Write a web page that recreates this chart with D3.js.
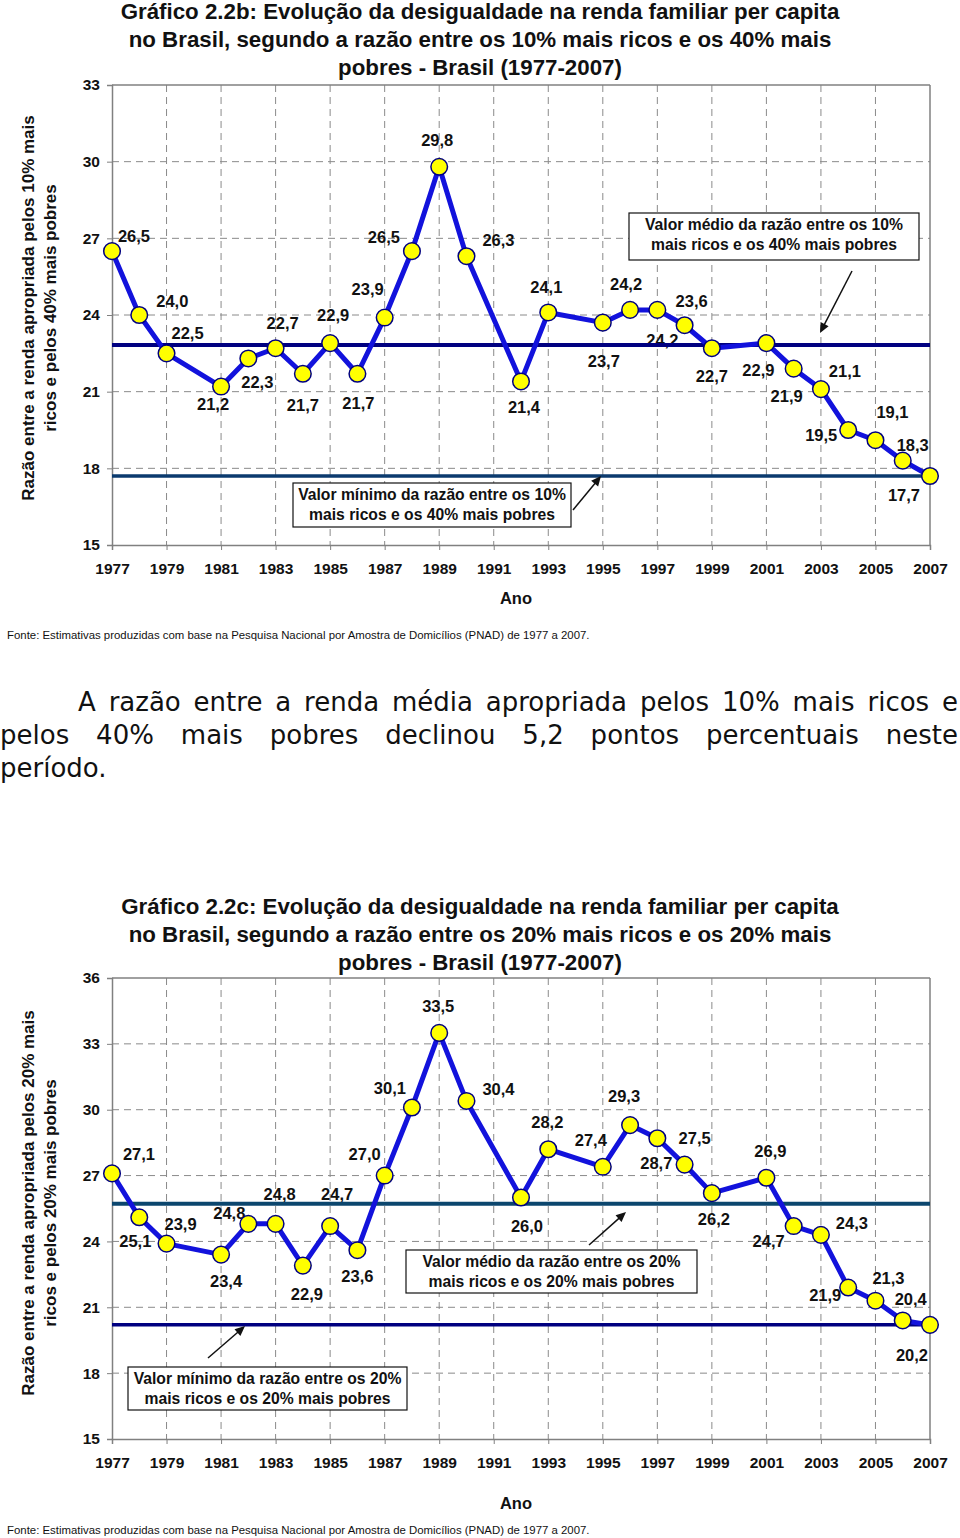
<!DOCTYPE html>
<html><head><meta charset="utf-8">
<script src="https://cdn.jsdelivr.net/npm/d3@7"></script>
<style>
body{margin:0;background:#fff;width:960px;height:1538px;overflow:hidden;position:relative}
svg{position:absolute;left:0;top:0}
.para{position:absolute;font-family:"DejaVu Sans",Verdana,sans-serif;font-size:26px;line-height:33px;color:#111;white-space:nowrap}
.just{text-align:justify;text-align-last:justify;word-spacing:0}
</style></head><body>
<svg id="chart" width="960" height="1538"></svg>
<div class="para just" style="top:686px;left:78px;width:880px">A razão entre a renda média apropriada pelos 10% mais ricos e</div>
<div class="para just" style="top:719px;left:0px;width:958px">pelos 40% mais pobres declinou 5,2 pontos percentuais neste</div>
<div class="para" style="top:752px;left:0px">período.</div>
<script>
// ---------- DATA ----------
const years = [1977,1978,1979,1981,1982,1983,1984,1985,1986,1987,1988,1989,1990,1992,1993,1995,1996,1997,1998,1999,2001,2002,2003,2004,2005,2006,2007];
const ratio10to40 = [26.5,24.0,22.5,21.2,22.3,22.7,21.7,22.9,21.7,23.9,26.5,29.8,26.3,21.4,24.1,23.7,24.2,24.2,23.6,22.7,22.9,21.9,21.1,19.5,19.1,18.3,17.7];
const ratio20to20 = [27.1,25.1,23.9,23.4,24.8,24.8,22.9,24.7,23.6,27.0,30.1,33.5,30.4,26.0,28.2,27.4,29.3,28.7,27.5,26.2,26.9,24.7,24.3,21.9,21.3,20.4,20.2];
const tickYears = [1977,1979,1981,1983,1985,1987,1989,1991,1993,1995,1997,1999,2001,2003,2005,2007];
const yTicks2b = [15,18,21,24,27,30,33];
const yTicks2c = [15,18,21,24,27,30,33,36];

const title2b = ["Gráfico 2.2b: Evolução da desigualdade na renda familiar per capita",
  "no Brasil, segundo a razão entre os 10% mais ricos e os 40% mais",
  "pobres - Brasil (1977-2007)"];
const title2c = ["Gráfico 2.2c: Evolução da desigualdade na renda familiar per capita",
  "no Brasil, segundo a razão entre os 20% mais ricos e os 20% mais",
  "pobres - Brasil (1977-2007)"];
const yTitle2b = ["Razão entre a renda apropriada pelos 10% mais", "ricos e pelos 40% mais pobres"];
const yTitle2c = ["Razão entre a renda apropriada pelos 20% mais", "ricos e pelos 20% mais pobres"];
const meanText2b = ["Valor médio da razão entre os 10%", "mais ricos e os 40% mais pobres"];
const minText2b = ["Valor mínimo da razão entre os 10%", "mais ricos e os 40% mais pobres"];
const meanText2c = ["Valor médio da razão entre os 20%", "mais ricos e os 20% mais pobres"];
const minText2c = ["Valor mínimo da razão entre os 20%", "mais ricos e os 20% mais pobres"];
const sourceText = "Fonte: Estimativas produzidas com base na Pesquisa Nacional por Amostra de Domicílios (PNAD) de 1977 a 2007.";

// ---------- LAYOUT (label offsets in px, annotation boxes) ----------
const labelOff2b = [[22,-15],[33,-14],[21,-20],[-8,18],[9,24],[7,-25],[0,31],[3,-28],[1,29],[-17,-28],[-28,-14],[-2,-27],[32,-16],[3,26],[-2,-25],[1,38],[-4,-26],[5,30],[7,-24],[0,28],[-8,27],[-7,27],[24,-18],[-27,5],[17,-28],[10,-16],[-26,19]];
const labelOff2c = [[27,-19],[-4,24],[14,-20],[5,26],[-19,-11],[4,-30],[4,28],[7,-32],[0,26],[-20,-22],[-22,-19],[-1,-27],[32,-12],[6,29],[-1,-27],[-12,-27],[-6,-29],[-1,25],[10,-27],[2,26],[4,-27],[-25,15],[31,-12],[-23,8],[13,-23],[8,-21],[-18,30]];

const FONT = '"Liberation Sans", Arial, Helvetica, sans-serif';
const svg = d3.select('#chart');

function drawChart(cfg) {
  const g = svg.append('g');
  const x = d3.scaleLinear().domain([1977, 2007]).range([112, 930]);
  const y = d3.scaleLinear().domain(cfg.yDomain).range([cfg.bottom, cfg.top]);
  const data = years.map((yr, i) => ({year: yr, value: cfg.values[i], off: cfg.offsets[i]}));
  const meanV = d3.mean(cfg.values), minV = d3.min(cfg.values);

  // title
  g.append('g').selectAll('text').data(cfg.title).join('text')
    .attr('x', 480).attr('y', (d, i) => cfg.titleY + i * 28)
    .attr('text-anchor', 'middle').attr('font-family', FONT).attr('font-weight', 'bold')
    .attr('font-size', 22.3).attr('fill', '#111').text(d => d);

  // grid
  const inner = cfg.yTicks.slice(1, -1);
  g.append('g').selectAll('line').data(inner).join('line')
    .attr('x1', 112).attr('x2', 930).attr('y1', d => y(d)).attr('y2', d => y(d))
    .attr('stroke', '#8a8a8a').attr('stroke-width', 1).attr('stroke-dasharray', '7,5');
  g.append('g').selectAll('line').data(tickYears.slice(1, -1)).join('line')
    .attr('x1', d => x(d)).attr('x2', d => x(d)).attr('y1', cfg.top).attr('y2', cfg.bottom)
    .attr('stroke', '#8a8a8a').attr('stroke-width', 1).attr('stroke-dasharray', '7,5');
  // frame top/right
  g.append('line').attr('x1', 112).attr('x2', 930).attr('y1', cfg.top).attr('y2', cfg.top)
    .attr('stroke', '#808080').attr('stroke-width', 1.5);
  g.append('line').attr('x1', 930).attr('x2', 930).attr('y1', cfg.top).attr('y2', cfg.bottom)
    .attr('stroke', '#808080').attr('stroke-width', 1.5);

  // axes
  const ay = g.append('g').attr('transform', 'translate(112,0)')
    .call(d3.axisLeft(y).tickValues(cfg.yTicks).tickSize(5).tickPadding(7).tickFormat(d3.format('d')));
  const ax = g.append('g').attr('transform', `translate(0,${cfg.bottom})`)
    .call(d3.axisBottom(x).tickValues(tickYears).tickSize(5).tickPadding(cfg.xPad).tickFormat(d3.format('d')));
  [ay, ax].forEach(a => {
    a.select('.domain').attr('stroke', '#808080').attr('stroke-width', 1.5);
    a.selectAll('.tick line').attr('stroke', '#808080');
    a.selectAll('text').attr('font-family', FONT).attr('font-weight', 'bold')
      .attr('font-size', 15.5).attr('fill', '#111');
  });

  // axis titles
  g.append('text').attr('x', 516).attr('y', cfg.anoY).attr('text-anchor', 'middle')
    .attr('font-family', FONT).attr('font-weight', 'bold').attr('font-size', 16.5).attr('fill', '#111').text('Ano');
  g.append('g').selectAll('text').data(cfg.yTitle).join('text')
    .attr('transform', (d, i) => `translate(${34 + i * 22},${cfg.yTitleC}) rotate(-90)`)
    .attr('text-anchor', 'middle').attr('font-family', FONT).attr('font-weight', 'bold')
    .attr('font-size', 17).attr('fill', '#111').text(d => d);

  // source
  g.append('text').attr('x', 7).attr('y', cfg.fonteY).attr('font-family', FONT)
    .attr('font-size', 11.4).attr('fill', '#111').text(sourceText);

  // value labels
  g.append('g').selectAll('text').data(data).join('text')
    .attr('x', d => x(d.year) + d.off[0]).attr('y', d => y(d.value) + d.off[1])
    .attr('dy', '0.36em').attr('text-anchor', 'middle').attr('font-family', FONT)
    .attr('font-weight', 'bold').attr('font-size', 16.5).attr('fill', '#111')
    .text(d => d3.format('.1f')(d.value).replace('.', ','));

  // mean & min lines
  g.append('line').attr('x1', 112).attr('x2', 930).attr('y1', y(meanV)).attr('y2', y(meanV))
    .attr('stroke', cfg.meanColor).attr('stroke-width', 4);
  g.append('line').attr('x1', 112).attr('x2', 930).attr('y1', y(minV)).attr('y2', y(minV))
    .attr('stroke', cfg.minColor).attr('stroke-width', 3.5);

  // series
  g.append('path').datum(data)
    .attr('d', d3.line().x(d => x(d.year)).y(d => y(d.value)))
    .attr('fill', 'none').attr('stroke', '#1212dc').attr('stroke-width', 5).attr('stroke-linejoin', 'round');
  g.append('g').selectAll('circle').data(data).join('circle')
    .attr('cx', d => x(d.year)).attr('cy', d => y(d.value)).attr('r', 8.3)
    .attr('fill', '#ffff00').attr('stroke', '#000080').attr('stroke-width', 1.5);

  // annotations
  cfg.notes.forEach(n => {
    g.append('rect').attr('x', n.box[0]).attr('y', n.box[1]).attr('width', n.box[2]).attr('height', n.box[3])
      .attr('fill', '#fff').attr('stroke', '#111').attr('stroke-width', 1.2);
    g.append('g').selectAll('text').data(n.text).join('text')
      .attr('x', n.box[0] + n.box[2] / 2).attr('y', (d, i) => n.box[1] + 11 + i * 20).attr('dy', '0.36em')
      .attr('text-anchor', 'middle').attr('font-family', FONT).attr('font-weight', 'bold')
      .attr('font-size', 15.7).attr('fill', '#111').text(d => d);
    const [x1, y1, x2, y2] = n.arrow;
    const ang = Math.atan2(y2 - y1, x2 - x1), L = 10, W = 4.5;
    g.append('line').attr('x1', x1).attr('y1', y1)
      .attr('x2', x2 - Math.cos(ang) * L * 0.8).attr('y2', y2 - Math.sin(ang) * L * 0.8)
      .attr('stroke', '#111').attr('stroke-width', 1.5);
    const bx = x2 - Math.cos(ang) * L, by = y2 - Math.sin(ang) * L;
    g.append('path').attr('d', `M${x2},${y2}L${bx - Math.sin(ang) * W},${by + Math.cos(ang) * W}L${bx + Math.sin(ang) * W},${by - Math.cos(ang) * W}Z`)
      .attr('fill', '#111');
  });
}

drawChart({
  values: ratio10to40, offsets: labelOff2b, yDomain: [15, 33], yTicks: yTicks2b,
  top: 85, bottom: 545, title: title2b, titleY: 19, yTitle: yTitle2b, yTitleC: 308,
  xPad: 13, anoY: 604, fonteY: 639, meanColor: '#000080', minColor: '#0b3a6e',
  notes: [
    {box: [629, 213, 290, 47], text: meanText2b, arrow: [852, 271, 820, 333]},
    {box: [293, 483, 278, 44], text: minText2b, arrow: [573, 510, 601, 476]}
  ]
});
drawChart({
  values: ratio20to20, offsets: labelOff2c, yDomain: [15, 36], yTicks: yTicks2c,
  top: 978, bottom: 1439, title: title2c, titleY: 914, yTitle: yTitle2c, yTitleC: 1203,
  xPad: 13, anoY: 1509, fonteY: 1534, meanColor: '#0b466e', minColor: '#000080',
  notes: [
    {box: [406, 1250, 291, 43], text: meanText2c, arrow: [589, 1245, 626, 1212]},
    {box: [128, 1367, 279, 43], text: minText2c, arrow: [208, 1358, 245, 1326]}
  ]
});
</script>
</body></html>
